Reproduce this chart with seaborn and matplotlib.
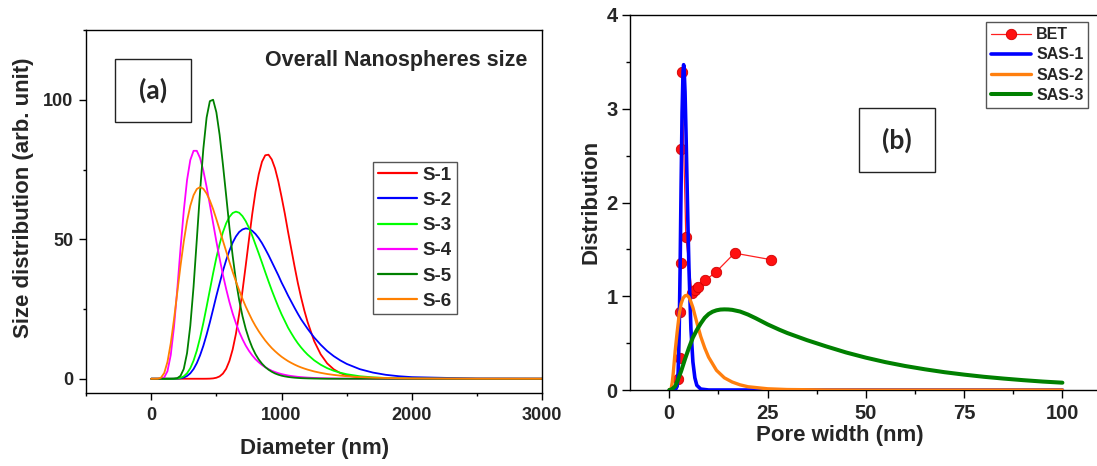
import matplotlib
matplotlib.use("Agg")
import matplotlib.pyplot as plt
import pandas as pd
import seaborn as sns
from matplotlib.ticker import MultipleLocator, AutoMinorLocator
from matplotlib.patches import Rectangle

# ---------------- panel (a) data ----------------
diameter_nm = [0, 50, 75, 100, 125, 150, 175, 200, 225, 250, 275, 300, 325, 350, 375, 400, 425,
               450, 475, 500, 525, 550, 575, 600, 625, 650, 675, 700, 725, 750, 775, 800, 825,
               850, 875, 900, 925, 950, 975, 1000, 1025, 1050, 1075, 1100, 1125, 1150, 1175,
               1200, 1250, 1300, 1350, 1400, 1450, 1500, 1600, 1700, 1800, 1900, 2000, 2500, 3000]
s1 = [0, 0, 0, 0, 0, 0, 0, 0, 0, 0, 0, 0, 0, 0, 0, 0, 0.01, 0.04, 0.13, 0.36, 0.85, 1.84, 3.56,
      6.38, 10.5, 16.1, 23.2, 31.4, 40.5, 49.9, 59.0, 67.0, 73.3, 77.8, 80.1, 80.3, 78.6, 75.4,
      70.8, 65.2, 59.2, 52.6, 46.4, 40.2, 34.3, 29.1, 24.4, 20.3, 13.5, 8.77, 5.50, 3.39, 2.04,
      1.20, 0.39, 0.13, 0.04, 0, 0, 0, 0]
s2 = [0, 0, 0, 0, 0, 0, 0.01, 0.05, 0.16, 0.43, 0.99, 1.96, 3.47, 5.60, 8.41, 11.8, 15.8, 20.2,
      24.9, 29.7, 34.2, 38.6, 42.5, 45.9, 48.8, 51.0, 52.6, 53.5, 53.9, 53.7, 53.0, 51.9, 50.4,
      48.6, 46.5, 44.3, 41.9, 39.5, 37.1, 34.5, 32.2, 29.8, 27.6, 25.4, 23.3, 21.3, 19.6, 17.9,
      14.8, 12.2, 9.94, 8.11, 6.59, 5.32, 3.44, 2.22, 1.41, 0.90, 0.58, 0.06, 0]
s3 = [0, 0, 0, 0, 0, 0, 0.02, 0.10, 0.33, 0.88, 1.96, 3.77, 6.48, 10.1, 14.7, 20.0, 25.8, 31.8,
      37.8, 43.4, 48.3, 52.5, 55.7, 58.0, 59.4, 59.9, 59.5, 58.3, 56.5, 54.1, 51.3, 48.1, 44.9,
      41.6, 38.2, 34.9, 31.7, 28.7, 25.8, 23.1, 20.7, 18.3, 16.3, 14.4, 12.7, 11.2, 9.85, 8.64,
      6.61, 5.03, 3.80, 2.87, 2.16, 1.62, 0.90, 0.51, 0.28, 0.16, 0.09, 0, 0]
s4 = [0, 0, 0.03, 0.49, 2.72, 8.51, 18.6, 32.0, 46.7, 60.2, 71.2, 78.4, 81.7, 81.7, 79.1, 74.6,
      68.8, 62.4, 55.8, 49.2, 43.1, 37.3, 32.2, 27.5, 23.4, 19.9, 16.8, 14.2, 11.9, 10.0, 8.39,
      7.01, 5.90, 4.93, 4.12, 3.45, 2.87, 2.41, 2.01, 1.67, 1.41, 1.17, 0.98, 0.83, 0.69, 0.58,
      0.49, 0.41, 0.29, 0.21, 0.15, 0.10, 0.07, 0.05, 0, 0, 0, 0, 0, 0, 0]
s5 = [0, 0, 0, 0, 0, 0, 0.03, 0.21, 1.04, 3.53, 9.17, 19.0, 33.0, 49.9, 67.2, 82.4, 93.6, 99.5,
      100.0, 95.5, 87.4, 76.9, 65.7, 54.3, 44.0, 35.2, 28.2, 22.5, 17.9, 14.2, 11.2, 8.8, 6.9,
      5.4, 4.2, 3.25, 2.5, 1.9, 1.45, 1.1, 0.85, 0.65, 0.5, 0.38, 0.29, 0.22, 0.17, 0.13, 0.07,
      0.03, 0, 0, 0, 0, 0, 0, 0, 0, 0, 0, 0]
s6 = [0, 0.02, 0.38, 2.05, 6.06, 12.7, 21.3, 30.9, 40.5, 49.2, 56.5, 62.0, 65.8, 68.0, 68.7,
      68.1, 66.4, 63.9, 60.8, 57.2, 53.4, 49.5, 45.7, 41.9, 38.3, 34.9, 31.7, 28.7, 25.9, 23.4,
      21.0, 18.9, 17.0, 15.3, 13.7, 12.3, 11.0, 9.87, 8.84, 7.89, 7.08, 6.32, 5.67, 5.07, 4.53,
      4.06, 3.65, 3.27, 2.62, 2.12, 1.70, 1.38, 1.12, 0.90, 0.60, 0.40, 0.27, 0.18, 0.12, 0.02, 0]
sample_labels = ["S-1", "S-2", "S-3", "S-4", "S-5", "S-6"]
sample_colors = ["#FF0000", "#0000FF", "#00FF00", "#FF00FF", "#008000", "#FF8000"]
sample_series = [s1, s2, s3, s4, s5, s6]

# ---------------- panel (b) data ----------------
bet_width = [2.1, 2.6, 2.6, 2.9, 3.05, 3.2, 4.2, 5.8, 6.6, 7.4, 9.2, 11.9, 16.6, 25.9]
bet_dist = [0.12, 0.34, 0.83, 1.36, 2.57, 3.39, 1.63, 1.03, 1.07, 1.10, 1.17, 1.26, 1.46, 1.39]

sas1_x = [0, 1.0, 1.5, 2.0, 2.25, 2.5, 2.75, 3.0, 3.25, 3.5, 3.64, 3.75, 4.0, 4.25, 4.5, 4.75,
          5.0, 5.5, 6.0, 6.5, 7.0, 8.0, 10, 100]
sas1_y = [0, 0, 0, 0.04, 0.19, 0.59, 1.30, 2.18, 2.96, 3.40, 3.47, 3.44, 3.18, 2.74, 2.24, 1.74,
          1.30, 0.65, 0.30, 0.13, 0.05, 0.01, 0, 0]
sas2_x = [0, 0.25, 0.5, 0.75, 1, 1.5, 2, 2.5, 3, 3.5, 4, 4.5, 5, 5.5, 6, 7, 8, 9, 10, 12, 14,
          16, 18, 20, 25, 30, 40, 50, 100]
sas2_y = [0, 0.002, 0.023, 0.082, 0.18, 0.42, 0.62, 0.80, 0.92, 0.98, 1.005, 1.01, 0.99, 0.94,
          0.88, 0.72, 0.57, 0.45, 0.35, 0.21, 0.13, 0.085, 0.055, 0.035, 0.013, 0.005, 0.001, 0, 0]
sas3_x = [0, 0.5, 1, 1.5, 2, 3, 4, 5, 6, 7, 8, 9, 10, 11, 12, 13, 14, 15, 16, 18, 20, 22, 25,
          28, 30, 35, 40, 45, 50, 55, 60, 65, 70, 75, 80, 85, 90, 95, 100]
sas3_y = [0, 0.005, 0.02, 0.04, 0.09, 0.20, 0.33, 0.45, 0.56, 0.64, 0.71, 0.77, 0.81, 0.835,
          0.85, 0.858, 0.86, 0.859, 0.855, 0.837, 0.805, 0.765, 0.70, 0.643, 0.608, 0.532,
          0.464, 0.40, 0.345, 0.297, 0.256, 0.221, 0.19, 0.164, 0.141, 0.122, 0.105, 0.09, 0.078]
sas_labels = ["SAS-1", "SAS-2", "SAS-3"]
sas_colors = ["#0000FF", "#FF7F0E", "#008000"]

# ---------------- style ----------------
sns.set_theme(style="ticks")
plt.rcParams["font.family"] = ["Liberation Sans", "DejaVu Sans"]
plt.rcParams["font.weight"] = "bold"
plt.rcParams["axes.labelweight"] = "bold"
plt.rcParams["axes.linewidth"] = 1.0
plt.rcParams["axes.edgecolor"] = "black"

W, H = 1097, 466
fig = plt.figure(figsize=(W / 100, H / 100), dpi=100)
ax1 = fig.add_axes([86 / W, 1 - 392.7 / H, 456.3 / W, 362.7 / H])
ax2 = fig.add_axes([630 / W, 1 - 390 / H, 471.7 / W, 375 / H])

# ---------------- panel (a) ----------------
df_a = pd.DataFrame({
    "Diameter (nm)": diameter_nm * len(sample_labels),
    "Size": [v for s in sample_series for v in s],
    "Sample": [lab for lab in sample_labels for _ in diameter_nm],
})
sns.lineplot(data=df_a, x="Diameter (nm)", y="Size", hue="Sample", hue_order=sample_labels,
             palette=dict(zip(sample_labels, sample_colors)), estimator=None, errorbar=None,
             sort=False, linewidth=1.3, ax=ax1)
ax1.set_xlim(-500, 3000)
ax1.set_ylim(-5, 125)
ax1.xaxis.set_major_locator(MultipleLocator(1000))
ax1.xaxis.set_minor_locator(AutoMinorLocator(2))
ax1.yaxis.set_major_locator(MultipleLocator(50))
ax1.yaxis.set_minor_locator(AutoMinorLocator(2))
ax1.tick_params(axis="both", which="major", direction="out", length=5, width=1.0,
                labelsize=13, pad=5, color="black")
ax1.tick_params(axis="both", which="minor", direction="out", length=2.5, width=1.0, color="black")
ax1.tick_params(axis="y", which="major", pad=4)
for sp in ax1.spines.values():
    sp.set_visible(True)
    sp.set_color("black")
ax1.set_xlabel("Diameter (nm)", fontsize=16, fontweight="bold")
ax1.set_ylabel("Size distribution (arb. unit)", fontsize=16, fontweight="bold")
ax1.xaxis.set_label_coords(0.5, -0.125)
ax1.yaxis.set_label_coords(-0.113, 0.538)

leg_a = ax1.get_legend()
h_a = leg_a.legend_handles
l_a = [t.get_text() for t in leg_a.get_texts()]
for h in h_a:
    h.set_linewidth(1.6)
ax1.legend(h_a, l_a, loc="upper left", bbox_to_anchor=(0.6296, 0.636), frameon=True,
           fancybox=False, edgecolor="#555555", framealpha=1,
           prop={"weight": "bold", "size": 13.5}, handlelength=2.06, handletextpad=0.33,
           labelspacing=0.43, borderpad=0.25, borderaxespad=0)

ax1.text(0.679, 0.917, "Overall Nanospheres size", transform=ax1.transAxes, ha="center",
         va="center", fontsize=15.5, fontweight="bold")
ax1.add_patch(Rectangle((0.0636, 0.7464), 0.1659, 0.1736, transform=ax1.transAxes,
                        fill=False, edgecolor="#222222", linewidth=1.0, zorder=5))
ax1.text(0.146, 0.833, "(a)", transform=ax1.transAxes, ha="center", va="center",
         fontsize=19, fontweight="bold", family=["Lato", "DejaVu Sans"])

# ---------------- panel (b) ----------------
sns.lineplot(x=bet_width, y=bet_dist, sort=False, estimator=None, errorbar=None,
             color="#FF2020", linewidth=0.9, marker="o", markersize=7.5,
             markerfacecolor="#FF1010", markeredgecolor="#D00000", markeredgewidth=0.6,
             label="BET", ax=ax2, zorder=2)
for xs, ys, lab, col, lw in zip([sas1_x, sas2_x, sas3_x], [sas1_y, sas2_y, sas3_y],
                                sas_labels, sas_colors, [2.6, 2.4, 2.9]):
    sns.lineplot(x=xs, y=ys, sort=False, estimator=None, errorbar=None, color=col,
                 linewidth=lw, label=lab, ax=ax2, zorder=3)

ax2.set_xlim(-10, 110)
ax2.set_ylim(0, 4)
ax2.xaxis.set_major_locator(MultipleLocator(25))
ax2.xaxis.set_minor_locator(AutoMinorLocator(2))
ax2.yaxis.set_major_locator(MultipleLocator(1))
ax2.yaxis.set_minor_locator(AutoMinorLocator(2))
ax2.tick_params(axis="both", which="major", direction="out", length=5.5, width=1.0,
                labelsize=14.5, pad=4.5, color="black")
ax2.tick_params(axis="both", which="minor", direction="out", length=3, width=1.0, color="black")
ax2.tick_params(axis="y", which="major", pad=3.5)
for sp in ax2.spines.values():
    sp.set_visible(True)
    sp.set_color("black")
ax2.set_xlabel("Pore width (nm)", fontsize=16, fontweight="bold")
ax2.set_ylabel("Distribution", fontsize=16, fontweight="bold")
ax2.xaxis.set_label_coords(0.445, -0.093)
ax2.yaxis.set_label_coords(-0.060, 0.501)

h_b, l_b = ax2.get_legend_handles_labels()
ax2.legend(h_b, l_b, loc="upper left", bbox_to_anchor=(0.7547, 0.9805), frameon=True,
           fancybox=False, edgecolor="#555555", framealpha=1,
           prop={"weight": "bold", "size": 11.5}, handlelength=2.5, handletextpad=0.35,
           labelspacing=0.33, borderpad=0.3, borderaxespad=0)

ax2.add_patch(Rectangle((0.4848, 0.5805), 0.162, 0.172, transform=ax2.transAxes,
                        fill=False, edgecolor="#222222", linewidth=1.0, zorder=5))
ax2.text(0.5658, 0.6665, "(b)", transform=ax2.transAxes, ha="center", va="center",
         fontsize=19, fontweight="bold", family=["Lato", "DejaVu Sans"])

fig.savefig("out.png", dpi=100)
